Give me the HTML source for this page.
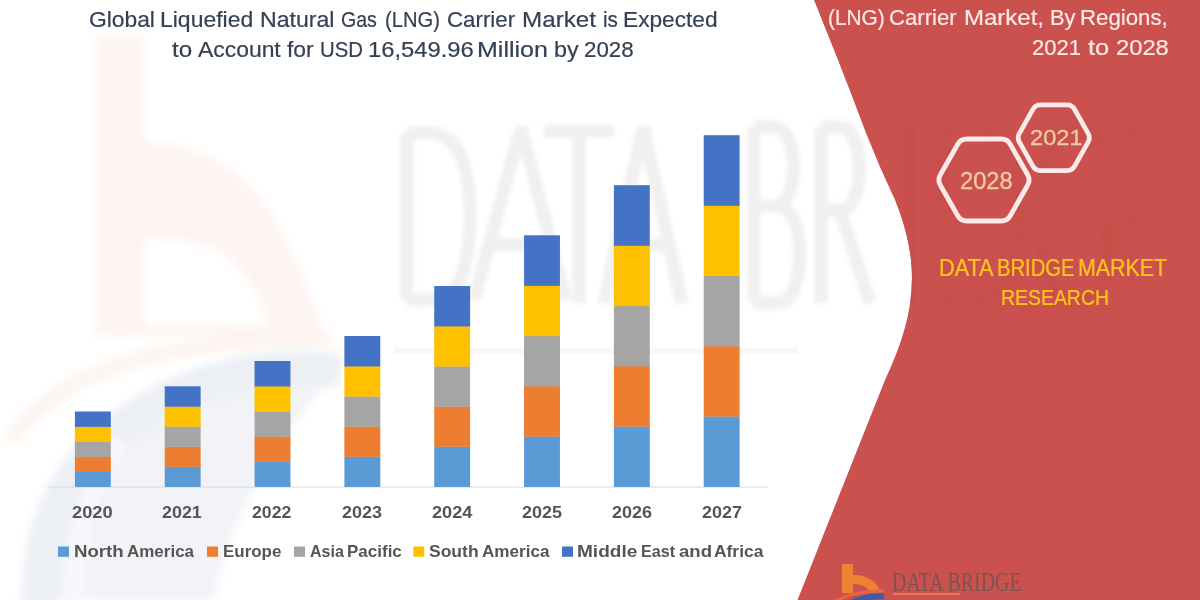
<!DOCTYPE html>
<html>
<head>
<meta charset="utf-8">
<style>
html,body{margin:0;padding:0;}
body{width:1200px;height:600px;overflow:hidden;position:relative;background:#ffffff;font-family:"Liberation Sans",sans-serif;}
svg{position:absolute;left:0;top:0;}
.t{position:absolute;white-space:nowrap;line-height:1;transform-origin:0 0;}
</style>
</head>
<body>
<svg width="1200" height="600" viewBox="0 0 1200 600">
<defs>
<filter id="blur2" x="-10%" y="-10%" width="120%" height="120%"><feGaussianBlur stdDeviation="2"/></filter>
<filter id="blur4" x="-10%" y="-10%" width="120%" height="120%"><feGaussianBlur stdDeviation="4"/></filter>
<clipPath id="redclip"><path d="M814 0 L838 60 L853.5 100 L866 133 L880 167 L895 200 C923 268 914 318 885 380 L797.5 600 L1200 600 L1200 0 Z"/></clipPath>
</defs>
<g id="wm"><g filter="url(#blur4)">
<!-- blue globe -->
<path d="M22 600 C18 470 110 372 270 360 C300 358 325 364 338 372 C290 420 232 505 214 600 Z" fill="#f1f3f7"/>
<path d="M40 605 C35 500 110 395 250 372 C290 366 320 368 340 372" fill="none" stroke="#eceff4" stroke-width="34"/>
<path d="M75 605 C72 540 90 480 120 440" fill="none" stroke="#f7f8fa" stroke-width="18"/>
<!-- b logo -->
<path d="M95 36 L145 36 L145 143 C205 140 262 180 292 252 C305 283 318 310 322 336 L95 336 Z M145 238 L145 326 L268 326 C260 290 235 248 190 242 C172 239 158 238 145 238 Z" fill="#fdf4f1" fill-rule="evenodd"/>
<!-- orange swoosh -->
<path d="M10 440 C60 372 150 340 330 338" fill="none" stroke="#fdf4ef" stroke-width="16"/>
</g>
<!-- DATA BRIDGE watermark letters -->
<g fill="none" stroke="#f0f0f0" stroke-width="13" stroke-linejoin="bevel" filter="url(#blur2)">
<path d="M407 133 L407 300 M407 133 L430 133 C462 133 470 175 470 216 C470 258 462 300 430 300 L407 300"/>
<path d="M474 300 L521 128 L566 300 M489 245 L551 245"/>
<path d="M544 131 L614 131 M579 131 L579 303"/>
<path d="M604 303 L643 127 L682 303 M618 245 L668 245"/>
<path d="M754 127 L754 303 M754 127 L774 127 C800 127 800 206 774 206 L754 206 M754 206 L778 206 C807 206 807 303 778 303 L754 303"/>
<path d="M821 127 L821 303 M821 127 L840 127 C866 127 866 210 840 210 L821 210 M840 210 L870 303"/>
</g>
<!-- orange underline -->
<path d="M394 351 L798 351" stroke="#fef6f2" stroke-width="6"/>
</g>

<path d="M814 0 L838 60 L853.5 100 L866 133 L880 167 L895 200 C923 268 914 318 885 380 L797.5 600 L1200 600 L1200 0 Z" fill="#cb514e"/>
<g clip-path="url(#redclip)">
<g fill="none" stroke="#c84f4c" stroke-width="13" filter="url(#blur2)">
<path d="M909 127 L909 303"/>
<path d="M944 127 L944 303 M944 127 L968 127 C1008 127 1020 170 1020 215 C1020 260 1008 303 968 303 L944 303"/>
<path d="M1108 150 C1095 130 1085 127 1075 127 C1050 127 1040 170 1040 215 C1040 260 1050 303 1075 303 C1092 303 1105 290 1108 270 L1108 225 L1085 225"/>
<path d="M1181 127 L1128 127 L1128 303 L1181 303 M1128 215 L1170 215"/>
</g>

</g>
<rect x="48" y="486.6" width="720" height="1" fill="#d9d9d9"/>
<rect x="74.90" y="471.58" width="35.9" height="15.37" fill="#5b9bd5"/>
<rect x="74.90" y="456.56" width="35.9" height="15.37" fill="#ed7d31"/>
<rect x="74.90" y="441.54" width="35.9" height="15.37" fill="#a5a5a5"/>
<rect x="74.90" y="426.52" width="35.9" height="15.37" fill="#ffc000"/>
<rect x="74.90" y="411.50" width="35.9" height="15.37" fill="#4472c4"/>
<rect x="164.73" y="466.54" width="35.9" height="20.41" fill="#5b9bd5"/>
<rect x="164.73" y="446.48" width="35.9" height="20.41" fill="#ed7d31"/>
<rect x="164.73" y="426.42" width="35.9" height="20.41" fill="#a5a5a5"/>
<rect x="164.73" y="406.36" width="35.9" height="20.41" fill="#ffc000"/>
<rect x="164.73" y="386.30" width="35.9" height="20.41" fill="#4472c4"/>
<rect x="254.56" y="461.48" width="35.9" height="25.47" fill="#5b9bd5"/>
<rect x="254.56" y="436.36" width="35.9" height="25.47" fill="#ed7d31"/>
<rect x="254.56" y="411.24" width="35.9" height="25.47" fill="#a5a5a5"/>
<rect x="254.56" y="386.12" width="35.9" height="25.47" fill="#ffc000"/>
<rect x="254.56" y="361.00" width="35.9" height="25.47" fill="#4472c4"/>
<rect x="344.39" y="456.48" width="35.9" height="30.47" fill="#5b9bd5"/>
<rect x="344.39" y="426.36" width="35.9" height="30.47" fill="#ed7d31"/>
<rect x="344.39" y="396.24" width="35.9" height="30.47" fill="#a5a5a5"/>
<rect x="344.39" y="366.12" width="35.9" height="30.47" fill="#ffc000"/>
<rect x="344.39" y="336.00" width="35.9" height="30.47" fill="#4472c4"/>
<rect x="434.22" y="446.48" width="35.9" height="40.47" fill="#5b9bd5"/>
<rect x="434.22" y="406.36" width="35.9" height="40.47" fill="#ed7d31"/>
<rect x="434.22" y="366.24" width="35.9" height="40.47" fill="#a5a5a5"/>
<rect x="434.22" y="326.12" width="35.9" height="40.47" fill="#ffc000"/>
<rect x="434.22" y="286.00" width="35.9" height="40.47" fill="#4472c4"/>
<rect x="524.05" y="436.34" width="35.9" height="50.61" fill="#5b9bd5"/>
<rect x="524.05" y="386.08" width="35.9" height="50.61" fill="#ed7d31"/>
<rect x="524.05" y="335.82" width="35.9" height="50.61" fill="#a5a5a5"/>
<rect x="524.05" y="285.56" width="35.9" height="50.61" fill="#ffc000"/>
<rect x="524.05" y="235.30" width="35.9" height="50.61" fill="#4472c4"/>
<rect x="613.88" y="426.32" width="35.9" height="60.63" fill="#5b9bd5"/>
<rect x="613.88" y="366.04" width="35.9" height="60.63" fill="#ed7d31"/>
<rect x="613.88" y="305.76" width="35.9" height="60.63" fill="#a5a5a5"/>
<rect x="613.88" y="245.48" width="35.9" height="60.63" fill="#ffc000"/>
<rect x="613.88" y="185.20" width="35.9" height="60.63" fill="#4472c4"/>
<rect x="703.71" y="416.32" width="35.9" height="70.63" fill="#5b9bd5"/>
<rect x="703.71" y="346.04" width="35.9" height="70.63" fill="#ed7d31"/>
<rect x="703.71" y="275.76" width="35.9" height="70.63" fill="#a5a5a5"/>
<rect x="703.71" y="205.48" width="35.9" height="70.63" fill="#ffc000"/>
<rect x="703.71" y="135.20" width="35.9" height="70.63" fill="#4472c4"/>
<rect x="58" y="546.5" width="11" height="10.3" fill="#5b9bd5"/>
<rect x="207" y="546.5" width="11" height="10.3" fill="#ed7d31"/>
<rect x="294" y="546.5" width="11" height="10.3" fill="#a5a5a5"/>
<rect x="413.3" y="546.5" width="11" height="10.3" fill="#ffc000"/>
<rect x="562" y="546.5" width="11" height="10.3" fill="#4472c4"/>
<path d="M940.36 185.22 Q937.40 180.00 940.36 174.78 L957.74 144.22 Q960.70 139.00 966.70 139.00 L1001.30 139.00 Q1007.30 139.00 1010.26 144.22 L1027.64 174.78 Q1030.60 180.00 1027.64 185.22 L1010.26 215.78 Q1007.30 221.00 1001.30 221.00 L966.70 221.00 Q960.70 221.00 957.74 215.78 Z" fill="none" stroke="#fbeae7" stroke-width="4.8"/>
<path d="M1019.40 142.11 Q1016.95 137.75 1019.40 133.39 L1032.90 109.31 Q1035.35 104.95 1040.35 104.95 L1067.15 104.95 Q1072.15 104.95 1074.60 109.31 L1088.10 133.39 Q1090.55 137.75 1088.10 142.11 L1074.60 166.19 Q1072.15 170.55 1067.15 170.55 L1040.35 170.55 Q1035.35 170.55 1032.90 166.19 Z" fill="none" stroke="#fbeae7" stroke-width="4.8"/>
<g id="logo">
<path d="M842 564 L853 564 L853 575 C866 574 878 582 881 593 L842 593 Z M853 584 L853 593 L871 593 C868 587 861 584 853 584 Z" fill="#ef8133" fill-rule="evenodd"/>
<path d="M828 606 C842 595 862 591 884 591" fill="none" stroke="#e9643f" stroke-width="3"/>
<path d="M846 606 C856 599 870 596 884 596" fill="none" stroke="#3e5aa8" stroke-width="6"/>
<path d="M893 594 L960 594" stroke="#f0784e" stroke-width="2"/>
<path d="M960 594 L1022 594" stroke="#b5565e" stroke-width="2"/>
</g>

</svg>
<div class="t" id="t1_0" style="left:88.98px;top:8.54px;font-size:22.1px;color:#344153;transform:scale(1.0322,1.0200);-webkit-text-stroke:0.2px #344153;">Global</div>
<div class="t" id="t1_1" style="left:159.95px;top:8.54px;font-size:22.1px;color:#344153;transform:scale(1.0389,1.0200);-webkit-text-stroke:0.2px #344153;">Liquefied</div>
<div class="t" id="t1_2" style="left:259.94px;top:8.54px;font-size:22.1px;color:#344153;transform:scale(1.0452,1.0200);-webkit-text-stroke:0.2px #344153;">Natural</div>
<div class="t" id="t1_3" style="left:341.13px;top:8.54px;font-size:22.1px;color:#344153;transform:scale(0.8856,1.0200);-webkit-text-stroke:0.2px #344153;">Gas</div>
<div class="t" id="t1_4" style="left:385.10px;top:8.54px;font-size:22.1px;color:#344153;transform:scale(0.9125,1.0200);-webkit-text-stroke:0.2px #344153;">(LNG)</div>
<div class="t" id="t1_5" style="left:447.41px;top:8.54px;font-size:22.1px;color:#344153;transform:scale(1.0082,1.0200);-webkit-text-stroke:0.2px #344153;">Carrier</div>
<div class="t" id="t1_6" style="left:521.84px;top:8.54px;font-size:22.1px;color:#344153;transform:scale(1.0958,1.0200);-webkit-text-stroke:0.2px #344153;">Market</div>
<div class="t" id="t1_7" style="left:602.65px;top:8.54px;font-size:22.1px;color:#344153;transform:scale(0.9360,1.0200);-webkit-text-stroke:0.2px #344153;">is</div>
<div class="t" id="t1_8" style="left:622.58px;top:8.54px;font-size:22.1px;color:#344153;transform:scale(1.0271,1.0200);-webkit-text-stroke:0.2px #344153;">Expected</div>
<div class="t" id="t2_0" style="left:172.00px;top:38.84px;font-size:22.2px;color:#344153;transform:scale(1.0893,1.0200);-webkit-text-stroke:0.2px #344153;">to</div>
<div class="t" id="t2_1" style="left:198.00px;top:38.84px;font-size:22.2px;color:#344153;transform:scale(1.0320,1.0200);-webkit-text-stroke:0.2px #344153;">Account</div>
<div class="t" id="t2_2" style="left:287.00px;top:38.84px;font-size:22.2px;color:#344153;transform:scale(1.0320,1.0200);-webkit-text-stroke:0.2px #344153;">for</div>
<div class="t" id="t2_3" style="left:320.22px;top:38.84px;font-size:22.2px;color:#344153;transform:scale(0.9173,1.0200);-webkit-text-stroke:0.2px #344153;">USD</div>
<div class="t" id="t2_4" style="left:367.91px;top:38.84px;font-size:22.2px;color:#344153;transform:scale(1.0706,1.0200);-webkit-text-stroke:0.2px #344153;">16,549.96</div>
<div class="t" id="t2_5" style="left:476.82px;top:38.84px;font-size:22.2px;color:#344153;transform:scale(1.1269,1.0200);-webkit-text-stroke:0.2px #344153;">Million</div>
<div class="t" id="t2_6" style="left:553.58px;top:38.84px;font-size:22.2px;color:#344153;transform:scale(1.0499,1.0200);-webkit-text-stroke:0.2px #344153;">by</div>
<div class="t" id="t2_7" style="left:584.42px;top:38.84px;font-size:22.2px;color:#344153;transform:scale(1.0067,1.0200);-webkit-text-stroke:0.2px #344153;">2028</div>
<div class="t" id="r1_0" style="left:827.64px;top:6.20px;font-size:22.2px;color:#fbe9e6;transform:scale(0.9393,1.0333);-webkit-text-stroke:0.2px #fbe9e6;">(LNG)</div>
<div class="t" id="r1_1" style="left:889.40px;top:6.20px;font-size:22.2px;color:#fbe9e6;transform:scale(0.9985,1.0333);-webkit-text-stroke:0.2px #fbe9e6;">Carrier</div>
<div class="t" id="r1_2" style="left:964.22px;top:6.20px;font-size:22.2px;color:#fbe9e6;transform:scale(1.0816,1.0333);-webkit-text-stroke:0.2px #fbe9e6;">Market,</div>
<div class="t" id="r1_3" style="left:1049.84px;top:6.20px;font-size:22.2px;color:#fbe9e6;transform:scale(0.9848,1.0333);-webkit-text-stroke:0.2px #fbe9e6;">By</div>
<div class="t" id="r1_4" style="left:1080.00px;top:6.20px;font-size:22.2px;color:#fbe9e6;transform:scale(1.0015,1.0333);-webkit-text-stroke:0.2px #fbe9e6;">Regions,</div>
<div class="t" id="r2_0" style="left:1032.26px;top:36.85px;font-size:22.5px;color:#fbe9e6;transform:scale(0.9773,1.0020);-webkit-text-stroke:0.2px #fbe9e6;">2021</div>
<div class="t" id="r2_1" style="left:1088.21px;top:36.85px;font-size:22.5px;color:#fbe9e6;transform:scale(1.1324,1.0020);-webkit-text-stroke:0.2px #fbe9e6;">to</div>
<div class="t" id="r2_2" style="left:1115.79px;top:36.85px;font-size:22.5px;color:#fbe9e6;transform:scale(1.0544,1.0020);-webkit-text-stroke:0.2px #fbe9e6;">2028</div>
<div class="t" id="h1" style="left:960.29px;top:169.50px;font-size:23.5px;color:#efcca8;transform:scale(1.0080,0.9846);-webkit-text-stroke:0.3px #efcca8;">2028</div>
<div class="t" id="h2" style="left:1030.19px;top:127.60px;font-size:23.5px;color:#efcca8;transform:scale(1.0060,0.9000);-webkit-text-stroke:0.3px #efcca8;">2021</div>
<div class="t" id="d1_0" style="left:938.73px;top:256.67px;font-size:23.5px;color:#ffc61a;transform:scale(0.9215,0.9800);-webkit-text-stroke:0.25px #ffc61a;">DATA</div>
<div class="t" id="d1_1" style="left:996.56px;top:256.67px;font-size:23.5px;color:#ffc61a;transform:scale(0.8614,0.9800);-webkit-text-stroke:0.25px #ffc61a;">BRIDGE</div>
<div class="t" id="d1_2" style="left:1077.94px;top:256.67px;font-size:23.5px;color:#ffc61a;transform:scale(0.9107,0.9800);-webkit-text-stroke:0.25px #ffc61a;">MARKET</div>
<div class="t" id="d2" style="left:1000.85px;top:286.60px;font-size:23.5px;color:#ffc61a;transform:scale(0.8268,0.9220);-webkit-text-stroke:0.25px #ffc61a;">RESEARCH</div>
<div class="t" id="y0" style="left:71.67px;top:504.68px;font-size:17.7px;color:#555555;font-weight:bold;transform:scale(1.0342,0.8938);">2020</div>
<div class="t" id="y1" style="left:161.69px;top:504.68px;font-size:17.7px;color:#555555;font-weight:bold;transform:scale(1.0105,0.8938);">2021</div>
<div class="t" id="y2" style="left:252.00px;top:504.68px;font-size:17.7px;color:#555555;font-weight:bold;transform:scale(1.0000,0.8938);">2022</div>
<div class="t" id="y3" style="left:341.98px;top:504.68px;font-size:17.7px;color:#555555;font-weight:bold;transform:scale(1.0158,0.8938);">2023</div>
<div class="t" id="y4" style="left:431.97px;top:504.68px;font-size:17.7px;color:#555555;font-weight:bold;transform:scale(1.0263,0.8938);">2024</div>
<div class="t" id="y5" style="left:521.98px;top:504.68px;font-size:17.7px;color:#555555;font-weight:bold;transform:scale(1.0158,0.8938);">2025</div>
<div class="t" id="y6" style="left:611.98px;top:504.68px;font-size:17.7px;color:#555555;font-weight:bold;transform:scale(1.0158,0.8938);">2026</div>
<div class="t" id="y7" style="left:701.98px;top:504.68px;font-size:17.7px;color:#555555;font-weight:bold;transform:scale(1.0158,0.8938);">2027</div>
<div class="t" id="l0_0" style="left:73.71px;top:543.51px;font-size:17.6px;color:#555555;font-weight:bold;transform:scale(1.0591,0.9410);">North</div>
<div class="t" id="l0_1" style="left:127.03px;top:543.51px;font-size:17.6px;color:#555555;font-weight:bold;transform:scale(0.9652,0.9410);">America</div>
<div class="t" id="l1" style="left:222.94px;top:543.51px;font-size:17.6px;color:#555555;font-weight:bold;transform:scale(0.9627,0.9410);">Europe</div>
<div class="t" id="l2_0" style="left:309.65px;top:543.51px;font-size:17.6px;color:#555555;font-weight:bold;transform:scale(0.9093,0.9410);">Asia</div>
<div class="t" id="l2_1" style="left:347.47px;top:543.51px;font-size:17.6px;color:#555555;font-weight:bold;transform:scale(0.9663,0.9410);">Pacific</div>
<div class="t" id="l3_0" style="left:428.98px;top:543.51px;font-size:17.6px;color:#555555;font-weight:bold;transform:scale(0.9951,0.9410);">South</div>
<div class="t" id="l3_1" style="left:482.20px;top:543.51px;font-size:17.6px;color:#555555;font-weight:bold;transform:scale(0.9720,0.9410);">America</div>
<div class="t" id="l4_0" style="left:577.07px;top:543.51px;font-size:17.6px;color:#555555;font-weight:bold;transform:scale(1.0825,0.9410);">Middle</div>
<div class="t" id="l4_1" style="left:640.50px;top:543.51px;font-size:17.6px;color:#555555;font-weight:bold;transform:scale(0.9166,0.9410);">East</div>
<div class="t" id="l4_2" style="left:678.73px;top:543.51px;font-size:17.6px;color:#555555;font-weight:bold;transform:scale(1.0558,0.9410);">and</div>
<div class="t" id="l4_3" style="left:714.40px;top:543.51px;font-size:17.6px;color:#555555;font-weight:bold;transform:scale(0.9888,0.9410);">Africa</div>
<div class="t" id="lg" style="left:891.92px;top:567.96px;font-size:28.5px;color:#7a5454;transform:scale(0.6992,0.9842);font-family:'Liberation Serif',serif;">DATA BRIDGE</div>
</body>
</html>
